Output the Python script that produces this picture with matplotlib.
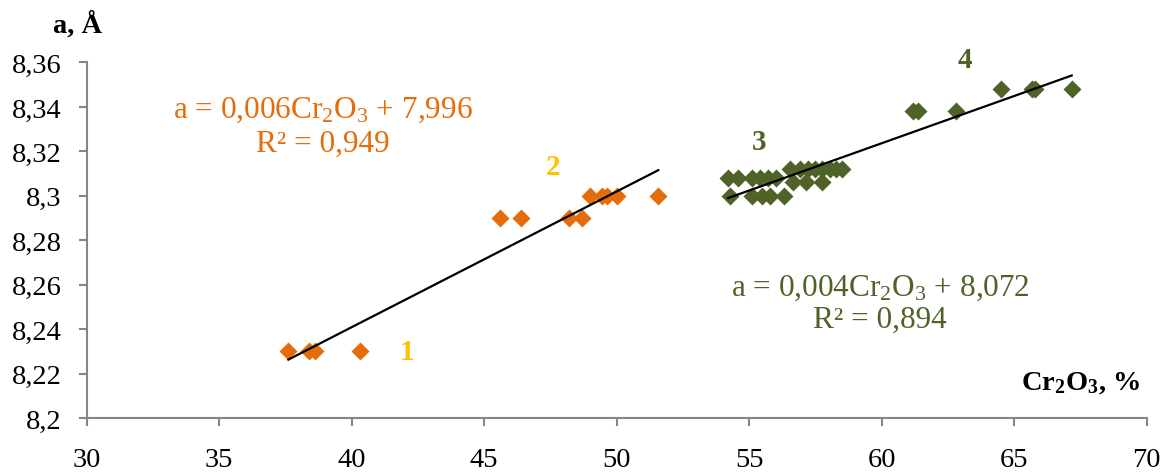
import numpy as np
import matplotlib.pyplot as plt
from matplotlib.ticker import FuncFormatter

plt.rcParams['font.family'] = ['Liberation Serif', 'DejaVu Serif']
plt.rcParams['mathtext.fontset'] = 'custom'
plt.rcParams['mathtext.rm'] = 'Liberation Serif'
plt.rcParams['mathtext.bf'] = 'Liberation Serif:bold'
plt.rcParams['mathtext.default'] = 'rm'

# orange group (1, 2)
cr_orange = [37.61, 38.40, 38.62, 40.31, 45.60, 46.39, 48.21, 48.70,
             48.99, 49.43, 49.62, 50.00, 51.57]
a_orange = [8.23, 8.23, 8.23, 8.23, 8.29, 8.29, 8.29, 8.29,
            8.30, 8.30, 8.30, 8.30, 8.30]

# green group (3, 4)
cr_green = [54.28, 55.11, 55.49, 55.79, 56.32,
            54.20, 54.58, 55.11, 55.41, 55.71, 56.01,
            56.65, 57.14, 57.74,
            56.54, 56.92, 57.22, 57.48, 57.74, 58.05, 58.27, 58.50,
            61.19, 61.38, 62.80,
            64.50, 65.66, 65.79, 67.17]
a_green = [8.300, 8.300, 8.300, 8.300, 8.300,
           8.308, 8.308, 8.308, 8.308, 8.308, 8.308,
           8.306, 8.306, 8.306,
           8.312, 8.312, 8.312, 8.312, 8.312, 8.312, 8.312, 8.312,
           8.338, 8.338, 8.338,
           8.348, 8.348, 8.348, 8.348]

orange = '#E46C0A'
green = '#4F6228'
gold = '#FFC000'

fig = plt.figure(figsize=(11.72, 4.77), dpi=100)
ax = fig.add_axes([0.074, 0.1216, 0.9044, 0.7453])

ms = 8.7
ax.plot(cr_orange, a_orange, 'D', color=orange, ms=ms, mec='none', zorder=2)
ax.plot(cr_green, a_green, 'D', color=green, ms=ms, mec='none', zorder=2)

# linear trendlines
for xs, ys in [(cr_orange, a_orange), (cr_green, a_green)]:
    k, b = np.polyfit(xs, ys, 1)
    xl = np.array([min(xs), max(xs)])
    ax.plot(xl, k * xl + b, color='black', lw=1.6, zorder=3)

ax.set_xlim(30, 70)
ax.set_ylim(8.2, 8.36)
ax.set_xticks(np.arange(30, 71, 5))
ax.set_yticks(np.round(np.arange(8.2, 8.361, 0.02), 2))
ax.yaxis.set_major_formatter(FuncFormatter(lambda v, p: f'{v:g}'.replace('.', ',')))

for s in ['top', 'right']:
    ax.spines[s].set_visible(False)
for s in ['left', 'bottom']:
    ax.spines[s].set_color('#868686')
    ax.spines[s].set_linewidth(1.5)
ax.tick_params(axis='both', color='#868686', width=1.5, length=6, labelsize=20.5)
ax.tick_params(axis='x', pad=15)
ax.tick_params(axis='y', pad=12)

# equations
eq_fs = 22.5
ax.text(38.92, 8.339, 'a = 0,006Cr$_2$O$_3$ + 7,996', color=orange, fontsize=eq_fs,
        ha='center', va='center')
ax.text(38.92, 8.3235, 'R² = 0,949', color=orange, fontsize=eq_fs, ha='center', va='center')
ax.text(59.94, 8.259, 'a = 0,004Cr$_2$O$_3$ + 8,072', color=green, fontsize=eq_fs,
        ha='center', va='center')
ax.text(59.94, 8.2445, 'R² = 0,894', color=green, fontsize=eq_fs, ha='center', va='center')

# group numbers
ax.text(42.09, 8.230, '1', color=gold, fontsize=21, fontweight='bold', ha='center', va='center')
ax.text(47.6, 8.3134, '2', color=gold, fontsize=21, fontweight='bold', ha='center', va='center')
ax.text(55.37, 8.3245, '3', color=green, fontsize=21, fontweight='bold', ha='center', va='center')
ax.text(63.15, 8.3615, '4', color=green, fontsize=21, fontweight='bold', ha='center', va='center')

# axis titles
fig.text(0.066, 0.948, 'a, Å', fontsize=20.5, fontweight='bold', ha='center', va='center')
fig.text(0.9727, 0.197, r'Cr$_\mathbf{2}$O$_\mathbf{3}$, %', fontsize=20.5, fontweight='bold',
         ha='right', va='center')

fig.savefig('out.png', dpi=100)
